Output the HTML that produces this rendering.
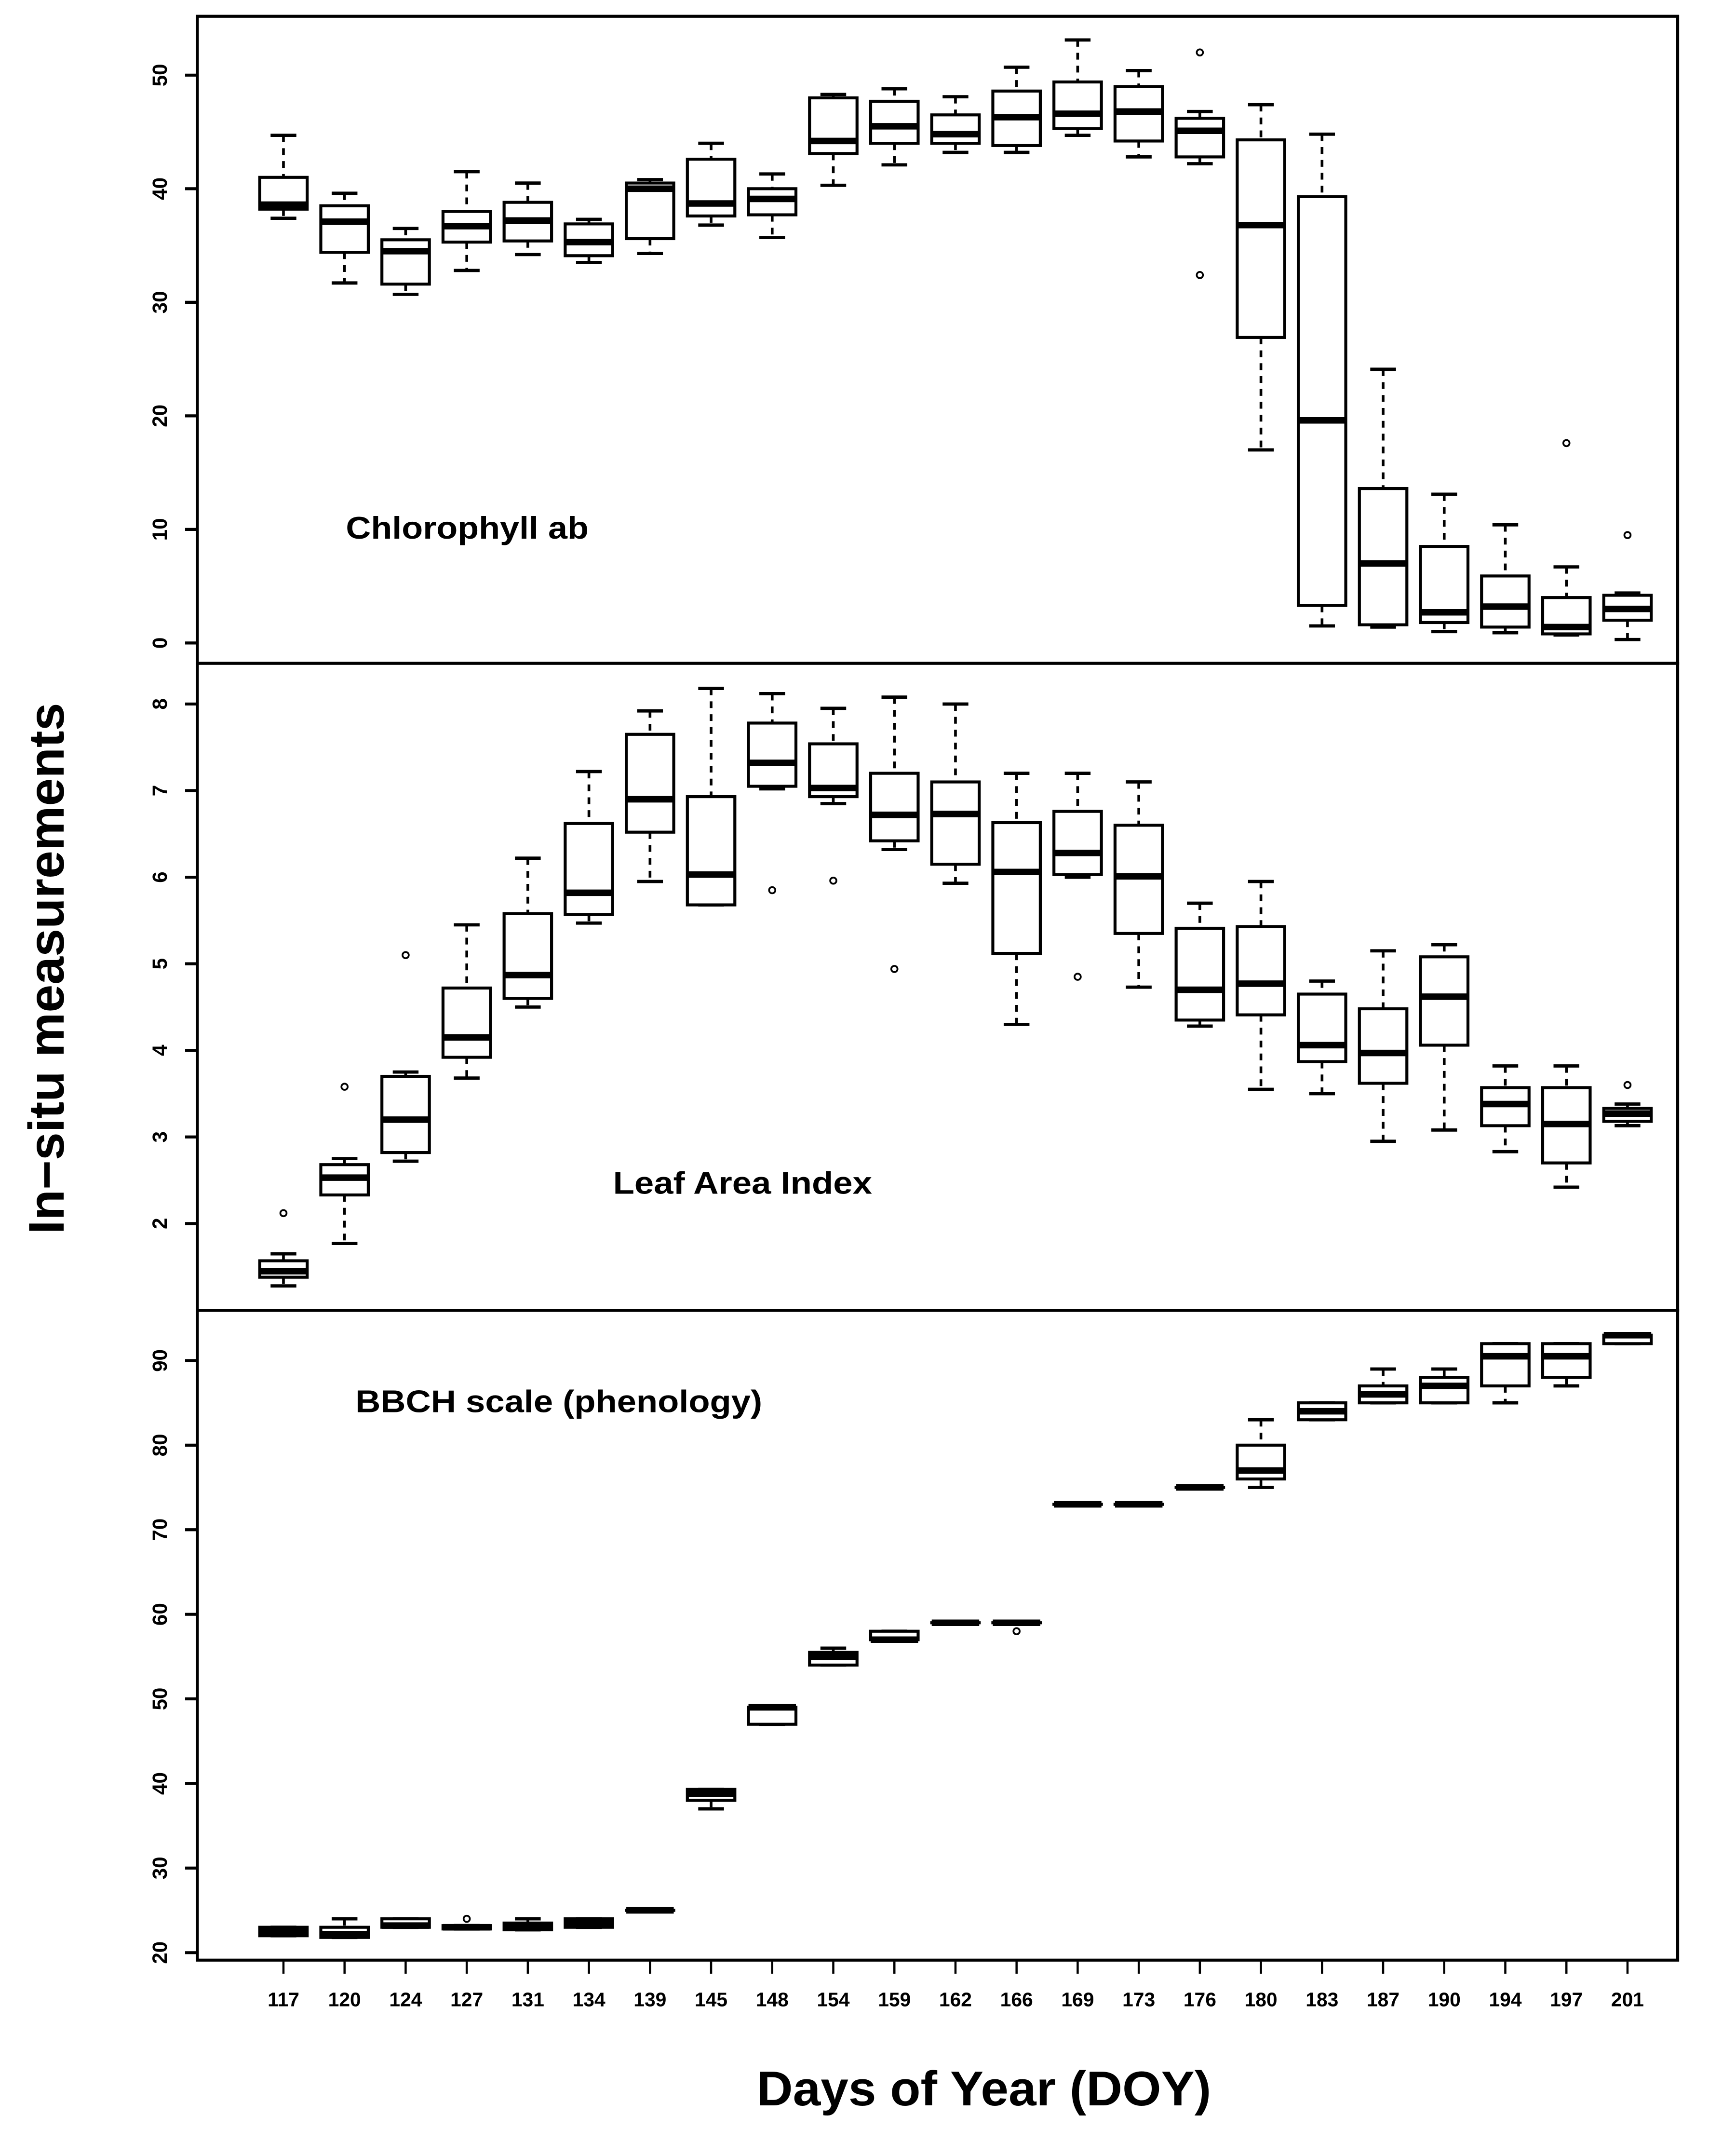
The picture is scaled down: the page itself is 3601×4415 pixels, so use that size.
<!DOCTYPE html>
<html><head><meta charset="utf-8">
<style>html,body{margin:0;padding:0;background:#fff}svg{display:block}</style>
</head><body>
<svg id="chart" xmlns="http://www.w3.org/2000/svg" width="3601" height="4415" viewBox="0 0 1280 1569.5" preserveAspectRatio="none" font-family="'Liberation Sans', sans-serif" font-weight="bold">
<rect x="0" y="0" width="1280" height="1569.5" fill="#fff"/>
<g id="plot"></g>
<text transform="translate(47,714) rotate(-90)" text-anchor="middle" font-size="37">In−situ measurements</text>
<text x="558" y="1552" font-size="36" textLength="335" lengthAdjust="spacingAndGlyphs">Days of Year (DOY)</text>
</svg>
<script>
const categories = ["117","120","124","127","131","134","139","145","148","154","159","162","166","169","173","176","180","183","187","190","194","197","201"];
// each: [low whisker, q1, median, q3, high whisker]
const chlStats = [[37.4,38.2,38.6,41,44.7],[31.7,34.4,37.1,38.5,39.6],[30.7,31.6,34.5,35.5,36.5],[32.8,35.3,36.7,38,41.5],[34.2,35.4,37.2,38.8,40.5],[33.5,34.1,35.3,36.9,37.3],[34.3,35.6,40,40.5,40.8],[36.8,37.6,38.7,42.6,44],[35.7,37.7,39.1,40,41.3],[40.3,43.1,44.2,48,48.3],[42.1,44,45.5,47.7,48.8],[43.2,44,44.8,46.5,48.1],[43.2,43.8,46.3,48.6,50.7],[44.7,45.3,46.6,49.4,53.1],[42.8,44.2,46.8,49,50.4],[42.2,42.8,45.1,46.2,46.8],[17,26.9,36.8,44.3,47.4],[1.5,3.3,19.6,39.3,44.8],[1.4,1.6,7,13.6,24.1],[1.0,1.8,2.7,8.5,13.1],[0.9,1.4,3.2,5.9,10.4],[0.7,0.8,1.4,4.0,6.7],[0.3,2.0,3.0,4.2,4.4]];
const chlOutliers = [[],[],[],[],[],[],[],[],[],[],[],[],[],[],[],[52,32.4],[],[],[],[],[],[17.6],[9.5]];
const laiStats = [[1.28,1.38,1.45,1.57,1.65],[1.77,2.33,2.53,2.68,2.75],[2.72,2.82,3.2,3.7,3.75],[3.68,3.92,4.15,4.72,5.45],[4.5,4.6,4.87,5.58,6.22],[5.47,5.57,5.82,6.62,7.22],[5.95,6.52,6.9,7.65,7.92],[5.68,5.68,6.03,6.93,8.18],[7.02,7.05,7.32,7.78,8.12],[6.85,6.93,7.03,7.54,7.95],[6.32,6.42,6.72,7.2,8.08],[5.93,6.15,6.73,7.1,8.0],[4.3,5.12,6.06,6.63,7.2],[6.0,6.03,6.28,6.76,7.2],[4.73,5.35,6.01,6.6,7.1],[4.28,4.35,4.7,5.41,5.7],[3.55,4.41,4.77,5.43,5.95],[3.5,3.87,4.06,4.65,4.8],[2.95,3.62,3.97,4.48,5.15],[3.08,4.06,4.62,5.08,5.22],[2.83,3.13,3.38,3.57,3.82],[2.42,2.7,3.15,3.57,3.82],[3.13,3.18,3.27,3.33,3.38]];
const laiOutliers = [[2.12],[3.58],[5.1],[],[],[],[],[],[5.85],[5.96],[4.94],[],[],[4.85],[],[],[],[],[],[],[],[],[3.6]];
const bbchStats = [[22,22,22.5,23,23],[21.8,21.8,22.2,23,24],[23,23,23.2,24,24],[22.8,22.8,23,23.2,23.2],[22.7,22.7,23,23.5,24],[23,23,23.5,24,24],[25,25,25,25,25],[37,38,38.8,39.3,39.3],[47,47,49,49,49],[54,54,55,55.5,56],[57,57,57,58,58],[59,59,59,59,59],[59,59,59,59,59],[73,73,73,73,73],[73,73,73,73,73],[75,75,75,75,75],[75,76,77,80,83],[83,83,84,85,85],[85,85,86,87,89],[85,85,87,88,89],[85,87,90.5,92,92],[87,88,90.5,92,92],[92,92,93,93,93]];
const bbchOutliers = [[],[],[],[24],[],[],[],[],[],[],[],[],[58],[],[],[],[],[],[],[],[],[],[]];
const chlTicks = [0,10,20,30,40,50];
const laiTicks = [2,3,4,5,6,7,8];
const bbchTicks = [20,30,40,50,60,70,80,90];

const NS = "http://www.w3.org/2000/svg";
const g = document.getElementById('plot');
const L = 145.5, R = 1237;
function xPos(i){ return 209 + i * (1200 - 209) / (categories.length - 1); }
function mk(tag, attrs, parent){ const e = document.createElementNS(NS, tag); for (const k in attrs) e.setAttribute(k, attrs[k]); (parent||g).appendChild(e); return e; }

const panels = [
  {name:'chlorophyll', top:12, bottom:489, v0:0, y0:474, v1:50, y1:55.4, stats:chlStats, outs:chlOutliers, ticks:chlTicks, label:'Chlorophyll ab', lx:255, ly:397, lw:179},
  {name:'lai', top:489, bottom:966, v0:2, y0:902, v1:8, y1:519, stats:laiStats, outs:laiOutliers, ticks:laiTicks, label:'Leaf Area Index', lx:452, ly:880, lw:191},
  {name:'bbch', top:966, bottom:1445, v0:20, y0:1439.5, v1:90, y1:1003, stats:bbchStats, outs:bbchOutliers, ticks:bbchTicks, label:'BBCH scale (phenology)', lx:262, ly:1041, lw:300}
];

panels.forEach(p => {
  const y = v => p.y0 + (v - p.v0) * (p.y1 - p.y0) / (p.v1 - p.v0);
  const pg = mk('g', {});
  
  
  p.ticks.forEach(t => {
    const tk = mk('line', {x1:L-9, x2:L, y1:y(t), y2:y(t), stroke:'#000', 'stroke-width':2.2}, pg);
    
    
    const tl = mk('text', {transform:'translate(' + 123 + ',' + y(t) + ') rotate(-90)', 'text-anchor':'middle', 'font-size':15}, pg);
    tl.textContent = t;
    
    
  });
  p.stats.forEach((s, i) => {
    const cx = xPos(i), hw = 17.5, cw = 9.5;
    const bg = mk('g', {stroke:'#000', fill:'none'}, pg);
    
    
    if (s[4] > s[3]) mk('line', {x1:cx, x2:cx, y1:y(s[4]), y2:y(s[3]), 'stroke-width':2, 'stroke-dasharray':'5,4.5'}, bg);
    if (s[1] > s[0]) mk('line', {x1:cx, x2:cx, y1:y(s[1]), y2:y(s[0]), 'stroke-width':2, 'stroke-dasharray':'5,4.5'}, bg);
    mk('line', {x1:cx-cw, x2:cx+cw, y1:y(s[4]), y2:y(s[4]), 'stroke-width':2.4}, bg);
    mk('line', {x1:cx-cw, x2:cx+cw, y1:y(s[0]), y2:y(s[0]), 'stroke-width':2.4}, bg);
    mk('rect', {x:cx-hw, y:y(s[3]), width:2*hw, height:Math.max(0.01, y(s[1]) - y(s[3])), 'stroke-width':2.2, fill:'#fff'}, bg);
    mk('line', {x1:cx-hw, x2:cx+hw, y1:y(s[2]), y2:y(s[2]), 'stroke-width':4.8}, bg);
    p.outs[i].forEach(o => {
      const c = mk('circle', {cx:cx, cy:y(o), r:2.3, 'stroke-width':1.3}, bg);
      
      
    });
  });
  const fr = mk('rect', {x:L, y:p.top, width:R-L, height:p.bottom-p.top, fill:'none', stroke:'#000', 'stroke-width':2.2}, pg);
  
  
  const lb = mk('text', {x:p.lx, y:p.ly, 'font-size':23, textLength:p.lw, lengthAdjust:'spacingAndGlyphs'}, pg);
  lb.textContent = p.label;
  
  
});

categories.forEach((c, i) => {
  const tk = mk('line', {x1:xPos(i), x2:xPos(i), y1:1446, y2:1455, stroke:'#000', 'stroke-width':1.6});
  
  
  const tl = mk('text', {x:xPos(i), y:1479, 'text-anchor':'middle', 'font-size':14.5});
  tl.textContent = c;
  
  
});
</script>
</body></html>
